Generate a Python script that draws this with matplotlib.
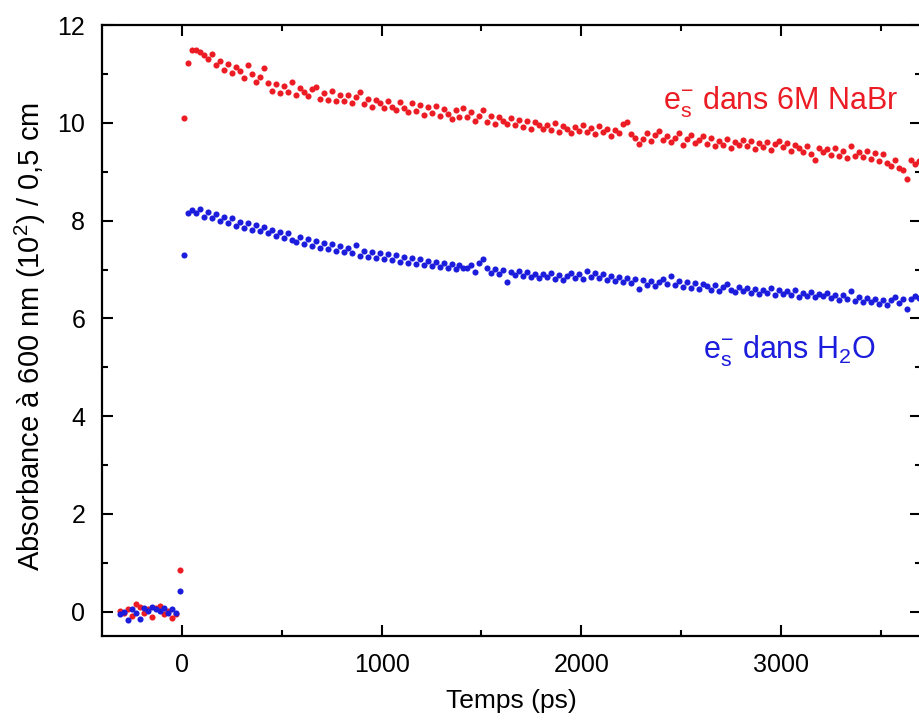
import numpy as np
import matplotlib
matplotlib.use('Agg')
import matplotlib.pyplot as plt
from matplotlib.ticker import MultipleLocator

plt.rcParams['font.family'] = ['Liberation Sans', 'DejaVu Sans']
plt.rcParams['mathtext.fontset'] = 'custom'
plt.rcParams['mathtext.rm'] = 'Liberation Sans'
plt.rcParams['mathtext.it'] = 'Liberation Sans:italic'

# temps (ps), pas de 20 ps
temps = np.arange(-310, 3700, 20)

# e- solvate dans 6M NaBr
nabr = [
    # avant l'impulsion
    0.02, -0.03, 0.05, -0.08, 0.15, 0.10, -0.02, 0.05, -0.10, 0.08,
    0.12, -0.05, 0.02, -0.12, -0.05, 0.85, 10.10,
    # apres
    11.22, 11.49, 11.50, 11.46, 11.40, 11.30, 11.42, 11.18, 11.27, 11.08,
    11.20, 11.02, 11.14, 11.06, 10.92, 11.18, 11.00, 10.84, 10.95, 11.12,
    10.82, 10.66, 10.80, 10.62, 10.76, 10.64, 10.84, 10.58, 10.72, 10.63,
    10.56, 10.70, 10.74, 10.50, 10.62, 10.48, 10.66, 10.45, 10.58, 10.44,
    10.58, 10.40, 10.53, 10.64, 10.38, 10.50, 10.33, 10.47, 10.40, 10.30,
    10.45, 10.33, 10.26, 10.42, 10.30, 10.22, 10.40, 10.25, 10.36, 10.17,
    10.32, 10.20, 10.35, 10.14, 10.28, 10.19, 10.08, 10.27, 10.13, 10.30,
    10.12, 10.22, 10.04, 10.15, 10.26, 10.02, 10.14, 9.98, 10.12, 10.04,
    9.97, 10.10, 9.95, 10.06, 9.92, 10.04, 9.88, 10.02, 9.95, 9.87,
    9.96, 9.85, 9.99, 9.82, 9.93, 9.88, 9.80, 9.92, 9.84, 9.95,
    9.82, 9.90, 9.77, 9.93, 9.81, 9.88, 9.74, 9.86, 9.80, 9.97,
    10.03, 9.78, 9.70, 9.58, 9.68, 9.80, 9.63, 9.76, 9.84, 9.66,
    9.74, 9.61, 9.70, 9.79, 9.55, 9.68, 9.76, 9.59, 9.66, 9.73,
    9.58, 9.69, 9.52, 9.64, 9.55, 9.68, 9.49, 9.62, 9.54, 9.66,
    9.53, 9.64, 9.47, 9.59, 9.50, 9.62, 9.45, 9.57, 9.64, 9.50,
    9.59, 9.43, 9.55, 9.48, 9.40, 9.53, 9.37, 9.25, 9.49, 9.40,
    9.46, 9.35, 9.48, 9.32, 9.43, 9.28, 9.52, 9.33, 9.41, 9.30,
    9.43, 9.27, 9.38, 9.22, 9.36, 9.18, 9.13, 9.24, 9.08, 9.03,
    8.85, 9.25, 9.16, 9.22,
]

# e- solvate dans H2O
eau = [
    -0.05, 0.00, -0.18, 0.05, -0.02, -0.15, 0.08, 0.02, 0.10, 0.05,
    0.02, 0.08, -0.03, 0.05, -0.02, 0.42, 7.30,
    8.16, 8.22, 8.15, 8.23, 8.08, 8.17, 8.05, 8.13, 8.00, 8.08,
    7.96, 8.05, 7.90, 7.98, 7.86, 7.95, 7.82, 7.92, 7.78, 7.87,
    7.74, 7.82, 7.68, 7.76, 7.64, 7.74, 7.60, 7.56, 7.67, 7.53,
    7.62, 7.48, 7.58, 7.45, 7.54, 7.42, 7.52, 7.38, 7.48, 7.36,
    7.44, 7.33, 7.50, 7.28, 7.39, 7.26, 7.35, 7.24, 7.33, 7.22,
    7.31, 7.20, 7.29, 7.16, 7.26, 7.14, 7.23, 7.12, 7.21, 7.10,
    7.18, 7.08, 7.16, 7.06, 7.14, 7.03, 7.12, 7.01, 7.10, 7.04,
    7.03, 7.09, 6.96, 7.13, 7.21, 7.04, 6.94, 7.02, 6.91, 6.99,
    6.74, 6.96, 6.88, 6.98, 6.86, 6.95, 6.84, 6.92, 6.82, 6.90,
    6.84, 6.93, 6.81, 6.89, 6.78, 6.87, 6.94, 6.82, 6.90, 6.80,
    6.97, 6.85, 6.94, 6.82, 6.91, 6.78, 6.87, 6.76, 6.84, 6.74,
    6.82, 6.72, 6.80, 6.61, 6.78, 6.68, 6.76, 6.66, 6.74, 6.81,
    6.71, 6.86, 6.68, 6.77, 6.65, 6.74, 6.63, 6.72, 6.61, 6.70,
    6.67, 6.58, 6.69, 6.56, 6.65, 6.71, 6.59, 6.54, 6.64, 6.57,
    6.63, 6.53, 6.61, 6.50, 6.59, 6.52, 6.62, 6.48, 6.58, 6.51,
    6.56, 6.47, 6.59, 6.44, 6.53, 6.46, 6.55, 6.43, 6.51, 6.45,
    6.52, 6.42, 6.49, 6.38, 6.47, 6.40, 6.56, 6.36, 6.44, 6.34,
    6.42, 6.33, 6.40, 6.30, 6.38, 6.28, 6.37, 6.43, 6.31, 6.39,
    6.20, 6.40, 6.45, 6.41,
]

rouge = '#EC1C24'
bleu = '#1C1CDC'

fig = plt.figure(figsize=(9.19, 7.22), dpi=100)
ax = fig.add_axes([0.111, 0.119, 0.891, 0.846])

ax.plot(temps, nabr, 'o', color=rouge, markersize=4.4, markeredgewidth=0)
ax.plot(temps, eau, 'o', color=bleu, markersize=4.4, markeredgewidth=0)

ax.text(2410, 10.28, r'e$_{\rm s}^{-}$ dans 6M NaBr', color=rouge, fontsize=22)
ax.text(2610, 5.18, r'e$_{\rm s}^{-}$ dans H$_{2}$O', color=bleu, fontsize=22)

ax.set_xlim(-400, 3700)
ax.set_ylim(-0.5, 12)
ax.xaxis.set_major_locator(MultipleLocator(1000))
ax.xaxis.set_minor_locator(MultipleLocator(500))
ax.yaxis.set_major_locator(MultipleLocator(2))
ax.yaxis.set_minor_locator(MultipleLocator(1))
ax.tick_params(which='both', direction='in', top=True, right=True, width=1.5, labelsize=18)
ax.tick_params(which='major', length=8, pad=12)
ax.tick_params(which='minor', length=4)
for s in ax.spines.values():
    s.set_linewidth(1.6)

ax.set_xlabel('Temps (ps)', fontsize=19, labelpad=9)
ax.set_ylabel(r'Absorbance à 600 nm (10$^{2}$) / 0,5 cm', fontsize=21)
ax.yaxis.set_label_coords(-0.066, 0.49)

fig.savefig('out.png', dpi=100)
